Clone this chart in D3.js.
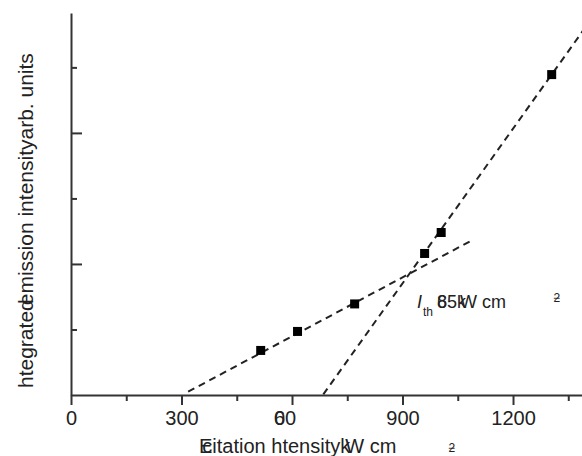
<!DOCTYPE html>
<html>
<head>
<meta charset="utf-8">
<script src="https://cdn.jsdelivr.net/npm/d3@7"></script>
<style>
  body { margin: 0; background: #fff; }
  svg { display: block; font-family: "Liberation Sans", Arial, sans-serif; }
  .axis path, .axis line { stroke: #333; stroke-width: 2; }
  .axis text { fill: #222; font-size: 20px; font-family: "Liberation Sans", Arial, sans-serif; }
</style>
</head>
<body>
<div id="chart"></div>
<script>
// excitation intensity (kW cm^-2) and integrated emission (arb. units)
const excitation = [515, 615, 770, 960, 1005, 1305];
const emission = [0.68, 0.97, 1.39, 2.16, 2.48, 4.89];

// dashed fit lines, end points
const fitLow = [[318, 0.05], [1085, 2.35]];
const fitHigh = [[685, 0.01], [1390, 5.56]];

const xMajor = [0, 300, 600, 900, 1200];
const xMinor = [150, 450, 750, 1050, 1350];
const yMajor = [2, 4];
const yMinor = [1, 3, 5];

const width = 582, height = 456;

const svg = d3.select("#chart").append("svg")
  .attr("width", width)
  .attr("height", height);

const x = d3.scaleLinear().domain([0, 1390]).range([71, 583]);
const y = d3.scaleLinear().domain([0, 5.83]).range([395, 13]);

// fit lines first so the squares sit on top
const line = d3.line().x(d => x(d[0])).y(d => y(d[1]));
[fitLow, fitHigh].forEach(f => {
  svg.append("path")
    .datum(f)
    .attr("d", line)
    .attr("fill", "none")
    .attr("stroke", "#222")
    .attr("stroke-width", 2)
    .attr("stroke-dasharray", "7,5");
});

// x axis
const gx = svg.append("g")
  .attr("class", "axis")
  .attr("transform", `translate(0,${y(0)})`)
  .call(d3.axisBottom(x).tickValues(xMajor).tickSize(10).tickSizeOuter(0).tickPadding(6)
    .tickFormat(d3.format("d")));

svg.append("g")
  .attr("class", "axis")
  .attr("transform", `translate(0,${y(0)})`)
  .call(d3.axisBottom(x).tickValues(xMinor).tickSize(6).tickSizeOuter(0).tickFormat(""))
  .select(".domain").remove();

// the 600 label is mangled in the original: "6" and "0" drawn on top of each other
gx.selectAll(".tick text")
  .filter(d => d === 600)
  .text(null)
  .attr("dx", -7.5)
  .call(t => {
    t.append("tspan").text("6");
    t.append("tspan").attr("dx", -11.1).text("0");
    t.append("tspan").text("0");
  });

// y axis, ticks pointing inward, no labels
svg.append("g")
  .attr("class", "axis")
  .attr("transform", `translate(${x(0)},0)`)
  .call(d3.axisRight(y).tickValues(yMajor).tickSize(11).tickSizeOuter(0).tickFormat(""));

svg.append("g")
  .attr("class", "axis")
  .attr("transform", `translate(${x(0)},0)`)
  .call(d3.axisRight(y).tickValues(yMinor).tickSize(6).tickSizeOuter(0).tickFormat(""))
  .select(".domain").remove();

// data points
const s = 9;
svg.selectAll(".pt")
  .data(excitation)
  .enter().append("rect")
  .attr("class", "pt")
  .attr("x", d => x(d) - s / 2)
  .attr("y", (d, i) => y(emission[i]) - s / 2)
  .attr("width", s)
  .attr("height", s)
  .attr("fill", "#000");

// x axis title
const xt = svg.append("text")
  .attr("x", 199)
  .attr("y", 453)
  .attr("font-size", 20)
  .attr("fill", "#222");
xt.append("tspan").text("E");
xt.append("tspan").attr("dx", -10).text("c");
xt.append("tspan").text("itation htensity");
xt.append("tspan").text("k");
xt.append("tspan").attr("dx", -5).text("W cm");

const xs = svg.append("text")
  .attr("x", 448)
  .attr("y", 452)
  .attr("font-size", 12)
  .attr("fill", "#222");
xs.append("tspan").text("\u2212");
xs.append("tspan").attr("dx", -6.5).text("2");

// y axis title
const yt = svg.append("text")
  .attr("transform", "translate(33,388) rotate(-90)")
  .attr("font-size", 21)
  .attr("fill", "#222");
yt.append("tspan").text("htegrated");
yt.append("tspan").attr("dx", -6).text("emission intensityarb. units");

// threshold annotation
const an = svg.append("text")
  .attr("x", 417)
  .attr("y", 308)
  .attr("font-size", 18)
  .attr("fill", "#222");
an.append("tspan").attr("font-style", "italic").text("I");
an.append("tspan").attr("font-size", 12).attr("dx", 1).attr("dy", 8).text("th");
an.append("tspan").attr("dx", 4).attr("dy", -8).text("8");
an.append("tspan").attr("dx", -10).text("65");
an.append("tspan").text("k");
an.append("tspan").attr("dx", -6).text("W cm");

const as = svg.append("text")
  .attr("x", 553)
  .attr("y", 302)
  .attr("font-size", 12)
  .attr("fill", "#222");
as.append("tspan").text("\u2212");
as.append("tspan").attr("dx", -6.5).text("2");
</script>
</body>
</html>
